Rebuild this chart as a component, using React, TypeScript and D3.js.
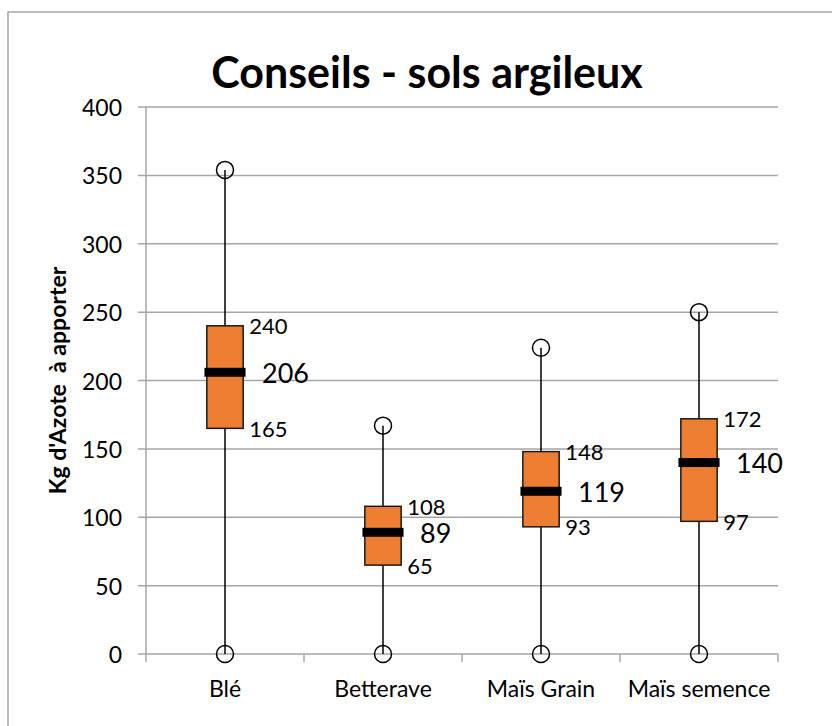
import React from 'react';
import * as d3 from 'd3';

// values
const categories = ['Blé', 'Betterave', 'Maïs Grain', 'Maïs semence'];
const minValues = [0, 0, 0, 0];
const q1Values = [165, 65, 93, 97];
const medianValues = [206, 89, 119, 140];
const q3Values = [240, 108, 148, 172];
const maxValues = [354, 167, 224, 250];
const yTicks = [0, 50, 100, 150, 200, 250, 300, 350, 400];

const W = 832;
const H = 726;
const margin = { top: 107, right: 54, bottom: 72, left: 146 };
const FONT = 'Lato, "Open Sans", sans-serif';
const GRID = '#a6a6a6';
const ORANGE = '#ed7d31';

const App = () => {
  const x = d3.scaleBand()
    .domain(categories)
    .range([margin.left, W - margin.right]);

  const y = d3.scaleLinear()
    .domain([0, 400])
    .range([H - margin.bottom, margin.top]);

  const boxW = x.bandwidth() * 0.23;
  const medW = x.bandwidth() * 0.26;
  const y0 = y(0);

  // tick positions between categories
  const xTicks = categories.map(c => x(c)).concat([W - margin.right]);

  return (
    <svg width={W} height={H} style={{ position: 'absolute', left: 0, top: 0, background: '#fff' }}>
      {/* outer chart border */}
      <rect x={8} y={12} width={W + 20} height={H + 20} fill="none" stroke={GRID} strokeWidth={1.5} />

      <text x={427} y={88} textAnchor="middle" fontFamily={FONT} fontWeight="bold" fontSize={43} fill="#000">
        Conseils - sols argileux
      </text>

      {/* grid lines + y ticks */}
      {yTicks.map(t => (
        <g key={t}>
          <line x1={margin.left - 8} x2={W - margin.right} y1={y(t)} y2={y(t)} stroke={GRID} strokeWidth={1.5} />
          <text x={122} y={y(t)} textAnchor="end" dominantBaseline="central" fontFamily={FONT} fontSize={23} fill="#000">
            {t}
          </text>
        </g>
      ))}
      <line x1={margin.left} x2={margin.left} y1={margin.top} y2={y0} stroke={GRID} strokeWidth={1.5} />
      {xTicks.map((t, i) => (
        <line key={i} x1={t} x2={t} y1={y0} y2={y0 + 8} stroke={GRID} strokeWidth={1.5} />
      ))}

      <text transform={`translate(57, ${(margin.top + y0) / 2}) rotate(-90)`} textAnchor="middle" dominantBaseline="central"
        fontFamily={FONT} fontWeight="bold" fontSize={23} fill="#000" style={{ whiteSpace: 'pre' }}>
        {"Kg d'Azote  à apporter"}
      </text>

      {categories.map((c, i) => {
        const cx = x(c) + x.bandwidth() / 2;
        return (
          <g key={c}>
            <line x1={cx} x2={cx} y1={y(minValues[i])} y2={y(maxValues[i])} stroke="#000" strokeWidth={1.5} />
            <circle cx={cx} cy={y(maxValues[i])} r={8.5} fill="none" stroke="#000" strokeWidth={1.5} />
            <circle cx={cx} cy={y(minValues[i])} r={8.5} fill="none" stroke="#000" strokeWidth={1.5} />
            <rect x={cx - boxW / 2} y={y(q3Values[i])} width={boxW} height={y(q1Values[i]) - y(q3Values[i])}
              fill={ORANGE} stroke="#1a1a1a" strokeWidth={1.5} />
            <rect x={cx - medW / 2} y={y(medianValues[i]) - 4.5} width={medW} height={9} fill="#000" />
            <text x={cx + boxW / 2 + 6} y={y(q3Values[i])} dominantBaseline="central" fontFamily={FONT} fontSize={22} fill="#000">
              {q3Values[i]}
            </text>
            <text x={cx + boxW / 2 + 6} y={y(q1Values[i])} dominantBaseline="central" fontFamily={FONT} fontSize={22} fill="#000">
              {q1Values[i]}
            </text>
            <text x={cx + 37} y={y(medianValues[i])} dominantBaseline="central" fontFamily={FONT} fontSize={27} fill="#000">
              {medianValues[i]}
            </text>
            <text x={cx} y={697} textAnchor="middle" fontFamily={FONT} fontSize={23} fill="#000">
              {c}
            </text>
          </g>
        );
      })}
    </svg>
  );
};

export default App;
